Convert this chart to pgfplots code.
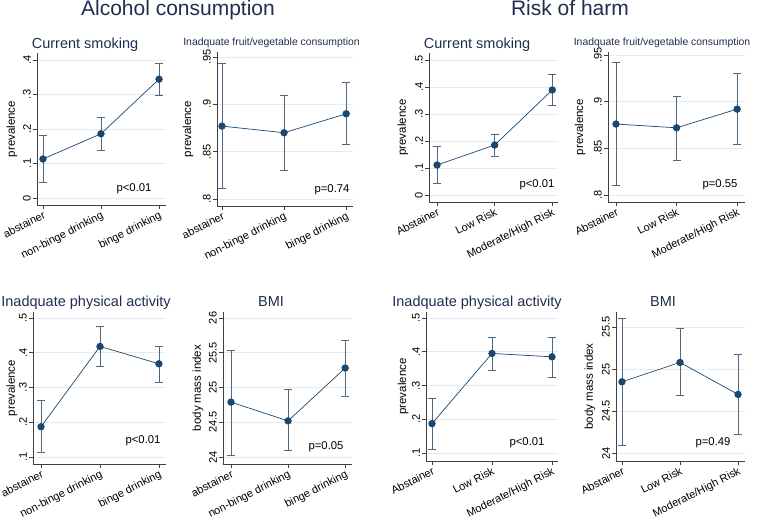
\documentclass[border=0pt]{standalone}
\usepackage{fontspec}
\setmainfont{Liberation Sans}
\usepackage{pgfplots}
\usepackage{pgfplotstable}
\pgfplotsset{compat=1.18}

\definecolor{snavy}{RGB}{26,71,111}
\definecolor{ttl}{RGB}{30,45,80}
\definecolor{ebar}{RGB}{80,105,130}
\definecolor{grd}{RGB}{228,236,240}

% x = category, y = estimate, lo/hi = 95% CI
\pgfplotstableread{
x y lo hi
1 0.113 0.044 0.181
2 0.186 0.139 0.233
3 0.344 0.297 0.390
}\smokeA
\pgfplotstableread{
x y lo hi
1 0.877 0.811 0.943
2 0.870 0.830 0.910
3 0.890 0.858 0.923
}\fruitA
\pgfplotstableread{
x y lo hi
1 0.111 0.043 0.179
2 0.185 0.143 0.224
3 0.389 0.333 0.448
}\smokeB
\pgfplotstableread{
x y lo hi
1 0.876 0.810 0.942
2 0.872 0.837 0.906
3 0.892 0.854 0.930
}\fruitB
\pgfplotstableread{
x y lo hi
1 0.187 0.114 0.263
2 0.418 0.361 0.476
3 0.368 0.315 0.419
}\physA
\pgfplotstableread{
x y lo hi
1 24.79 24.03 25.53
2 24.52 24.09 24.97
3 25.28 24.87 25.68
}\bmiA
\pgfplotstableread{
x y lo hi
1 0.187 0.112 0.262
2 0.395 0.346 0.444
3 0.385 0.324 0.444
}\physB
\pgfplotstableread{
x y lo hi
1 24.85 24.09 25.60
2 25.08 24.69 25.48
3 24.70 24.23 25.18
}\bmiB

\pgfplotsset{
  panel/.style={
    scale only axis, anchor=south west,
    axis x line*=bottom, axis y line*=left,
    axis line style={black!75, line width=0.6pt},
    tick align=outside, major tick length=4pt,
    tick style={black!75, line width=0.6pt},
    xtick={1,2,3},
    ymajorgrids, grid style={grd, line width=0.6pt},
    tick label style={font=\fontsize{11}{11}\selectfont, black},
    yticklabel style={rotate=90, anchor=south, inner sep=2pt},
    xticklabel style={rotate=27, anchor=north east, inner sep=1pt},
    label style={font=\fontsize{11.5}{12}\selectfont},
    clip=false,
  },
  leftcats/.style={xticklabels={abstainer,non-binge drinking,binge drinking}},
  rightcats/.style={xticklabels={Abstainer,Low Risk,Moderate/High Risk}},
}

\newcommand\series[1]{%
  \addplot[only marks, mark=none, forget plot,
    error bars/.cd, y dir=both, y explicit,
    error bar style={draw=ebar, line width=0.7pt},
    error mark options={draw=ebar, rotate=90, mark size=4pt, line width=0.7pt}]
    table[x=x, y=y, y error plus expr=\thisrow{hi}-\thisrow{y},
          y error minus expr=\thisrow{y}-\thisrow{lo}] {#1};
  \addplot[snavy, line width=0.7pt, mark=*, mark size=3.3pt,
    mark options={fill=snavy, draw=snavy}] table[x=x, y=y] {#1};
}

\begin{document}
\begin{tikzpicture}
\tikzset{ttlbig/.style={font=\fontsize{21}{21}\selectfont, text=ttl, anchor=base},
         ttlmid/.style={font=\fontsize{14.5}{14.5}\selectfont, text=ttl, anchor=base},
         ttlsm/.style={font=\fontsize{10.4}{10.4}\selectfont, text=ttl, anchor=base},
         pval/.style={font=\fontsize{11.3}{11.3}\selectfont, anchor=east}}

% ---- top row ----
\begin{axis}[panel, leftcats, at={(37pt,315pt)}, width=129pt, height=152pt,
  xmin=0.897, xmax=3.12, ymin=-0.0203, ymax=0.420,
  ytick={0,0.1,0.2,0.3,0.4}, yticklabels={0,.1,.2,.3,.4},
  ylabel={prevalence}, ylabel style={at={(axis description cs:-0.194,0.5)}, anchor=center}]
\series{\smokeA}
\end{axis}

\begin{axis}[panel, leftcats, at={(217pt,314pt)}, width=136pt, height=154pt,
  xmin=0.92, xmax=3.11, ymin=0.7926, ymax=0.9553,
  ytick={0.8,0.85,0.9,0.95}, yticklabels={.8,.85,.9,.95},
  ylabel={prevalence}, ylabel style={at={(axis description cs:-0.213,0.5)}, anchor=center}]
\series{\fruitA}
\end{axis}

\begin{axis}[panel, rightcats, at={(429pt,318pt)}, width=129pt, height=149pt,
  xmin=0.86, xmax=3.10, ymin=-0.026, ymax=0.526,
  ytick={0,0.1,0.2,0.3,0.4,0.5}, yticklabels={0,.1,.2,.3,.4,.5},
  ylabel={prevalence}, ylabel style={at={(axis description cs:-0.2016,0.5)}, anchor=center}]
\series{\smokeB}
\end{axis}

\begin{axis}[panel, rightcats, at={(608pt,318pt)}, width=137pt, height=150pt,
  xmin=0.868, xmax=3.13, ymin=0.7925, ymax=0.9532,
  ytick={0.8,0.85,0.9,0.95}, yticklabels={.8,.85,.9,.95},
  ylabel={prevalence}, ylabel style={at={(axis description cs:-0.204,0.5)}, anchor=center}]
\series{\fruitB}
\end{axis}

% ---- bottom row ----
\begin{axis}[panel, leftcats, at={(33pt,56pt)}, width=133pt, height=152pt,
  xmin=0.864, xmax=3.12, ymin=0.0799, ymax=0.517,
  ytick={0.1,0.2,0.3,0.4,0.5}, yticklabels={.1,.2,.3,.4,.5},
  ylabel={prevalence}, ylabel style={at={(axis description cs:-0.158,0.5)}, anchor=center}]
\series{\physA}
\end{axis}

\begin{axis}[panel, leftcats, at={(223pt,56pt)}, width=129pt, height=152pt,
  xmin=0.86, xmax=3.12, ymin=23.9, ymax=26.086,
  ytick={24,24.5,25,25.5,26}, yticklabels={24,24.5,25,25.5,26},
  ylabel={body mass index}, ylabel style={at={(axis description cs:-0.194,0.5)}, anchor=center}]
\series{\bmiA}
\end{axis}

\begin{axis}[panel, rightcats, at={(426pt,59pt)}, width=132pt, height=149pt,
  xmin=0.9, xmax=3.1, ymin=0.0763, ymax=0.5178,
  ytick={0.1,0.2,0.3,0.4,0.5}, yticklabels={.1,.2,.3,.4,.5},
  ylabel={prevalence}, ylabel style={at={(axis description cs:-0.174,0.5)}, anchor=center}]
\series{\physB}
\end{axis}

\begin{axis}[panel, rightcats, at={(616pt,59pt)}, width=129pt, height=149pt,
  xmin=0.897, xmax=3.12, ymin=23.908, ymax=25.68,
  ytick={24,24.5,25,25.5}, yticklabels={24,24.5,25,25.5},
  ylabel={body mass index}, ylabel style={at={(axis description cs:-0.2016,0.5)}, anchor=center}]
\series{\bmiB}
\end{axis}

% ---- titles ----
\node[ttlbig] at (178pt,504.3pt) {Alcohol consumption};
\node[ttlbig] at (570pt,504.3pt) {Risk of harm};
\node[ttlmid] at (85pt,471.7pt) {Current smoking};
\node[ttlsm] at (271.5pt,474.3pt) {Inadquate fruit/vegetable consumption};
\node[ttlmid] at (477pt,471.7pt) {Current smoking};
\node[ttlsm] at (662pt,474.3pt) {Inadquate fruit/vegetable consumption};
\node[ttlmid] at (86pt,214pt) {Inadquate physical activity};
\node[ttlmid] at (271pt,214pt) {BMI};
\node[ttlmid] at (477pt,214pt) {Inadquate physical activity};
\node[ttlmid] at (663pt,214pt) {BMI};

% ---- p-values ----
\node[pval] at (155pt,331pt) {p<0.01};
\node[pval] at (353pt,330pt) {p=0.74};
\node[pval] at (558pt,335pt) {p<0.01};
\node[pval] at (741pt,335pt) {p=0.55};
\node[pval] at (164pt,79pt) {p<0.01};
\node[pval] at (347pt,73pt) {p=0.05};
\node[pval] at (548pt,77pt) {p<0.01};
\node[pval] at (734pt,77pt) {p=0.49};

\pgfresetboundingbox
\useasboundingbox (0pt,0pt) rectangle (760pt,520pt);
\end{tikzpicture}
\end{document}
